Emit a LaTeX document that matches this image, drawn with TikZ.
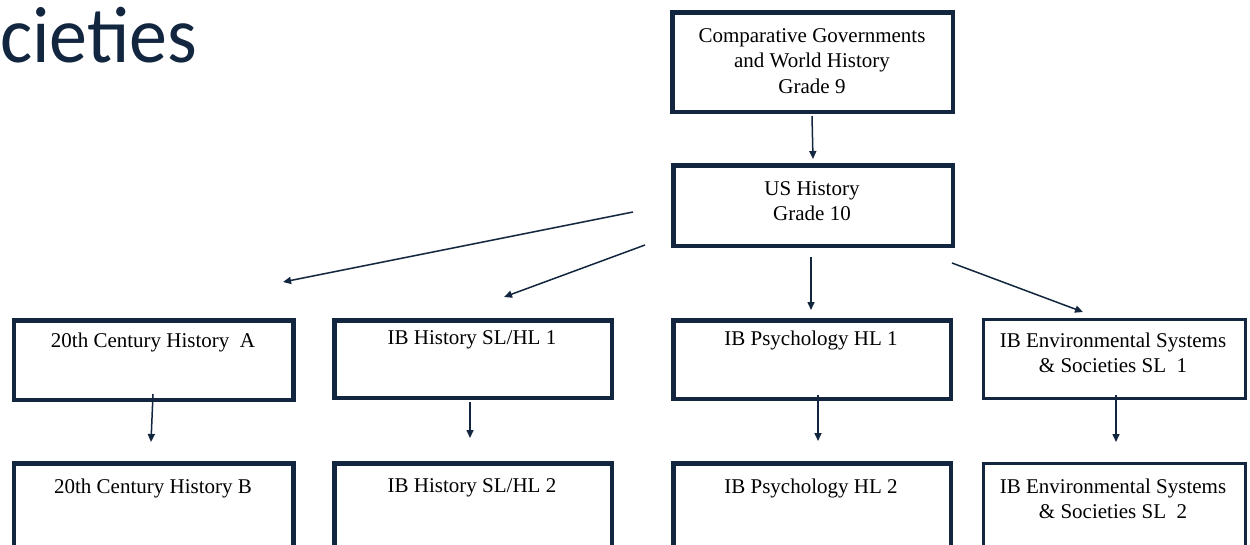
\documentclass[tikz,border=0pt]{standalone}
\usepackage{fontspec}
\setmainfont{Liberation Serif}
\newfontfamily\titlefont{Carlito}
\usetikzlibrary{arrows.meta}
\definecolor{navy}{HTML}{13263F}
\begin{document}
\begin{tikzpicture}[x=1pt,y=-1pt,
  box/.style={draw=navy, line width=4.5pt, inner sep=0pt, fill=white},
  thinbox/.style={box, line width=3pt},
  txt/.style={align=center, font=\fontsize{21}{25.5}\selectfont, text=black, inner sep=0pt},
  arr/.style={draw=navy, line width=1.5pt, -{Triangle[length=8pt,width=7pt]}}]
\useasboundingbox (0,0) rectangle (1250,544);
\clip (0,0) rectangle (1250,544);
% title fragment
\node[anchor=base west, inner sep=0pt, text=navy, font=\titlefont\fontsize{80}{90}\selectfont] (title) at (0,62) {\scalebox{0.95}[1]{cieties}};
% boxes
\node[box, minimum width=280.5pt, minimum height=99.5pt] (top) at (812.5,62) {};
\node[box, minimum width=279.5pt, minimum height=80.5pt] (us) at (813,205.5) {};
\node[box, minimum width=279.5pt, minimum height=79.5pt] (a1) at (153.5,360) {};
\node[box, minimum width=277.5pt, minimum height=77.5pt] (h1) at (473,359) {};
\node[box, minimum width=277.5pt, minimum height=78.5pt] (p1) at (812,359.5) {};
\node[thinbox, minimum width=262pt, minimum height=79pt] (e1) at (1114.5,359) {};
\node[box, minimum width=279.5pt, minimum height=95pt] (a2) at (153.5,511) {};
\node[box, minimum width=277.5pt, minimum height=95pt] (h2) at (473,511) {};
\node[box, minimum width=277.5pt, minimum height=95pt] (p2) at (812,511) {};
\node[thinbox, minimum width=262pt, minimum height=96pt] (e2) at (1114.5,511) {};
% texts
\node[txt] (topT) at (812,61) {Comparative Governments\\and World History\\Grade 9};
\node[txt] (usT) at (812,201) {US History\\Grade 10};
\node[txt] (a1T) at (153,342) {20th Century History\ \ A};
\node[txt] (h1T) at (472,340) {IB History SL/HL 1};
\node[txt] (p1T) at (811,340) {IB Psychology HL 1};
\node[txt] (e1T) at (1113,353) {IB Environmental Systems\\\&\ Societies SL\ \ 1};
\node[txt] (a2T) at (153,488) {20th Century History B};
\node[txt] (h2T) at (472,488) {IB History SL/HL 2};
\node[txt] (p2T) at (811,488) {IB Psychology HL 2};
\node[txt] (e2T) at (1113,499) {IB Environmental Systems\\\&\ Societies SL\ \ 2};
% arrow endpoints
\coordinate (s0) at (812,116); \coordinate (t0) at (813,159);
\coordinate (s1) at (633,212); \coordinate (t1) at (283,282);
\coordinate (s2) at (645,245); \coordinate (t2) at (504,297);
\coordinate (s3) at (811,257); \coordinate (t3) at (811,310);
\coordinate (s4) at (952,263); \coordinate (t4) at (1083,312);
\coordinate (s5) at (153,394); \coordinate (t5) at (151,442);
\coordinate (s6) at (470,402); \coordinate (t6) at (470,438);
\coordinate (s7) at (818,395); \coordinate (t7) at (818,441);
\coordinate (s8) at (1116,395); \coordinate (t8) at (1116,442);
\foreach \i in {0,...,8} { \draw[arr] (s\i) -- (t\i); }
\end{tikzpicture}
\end{document}
